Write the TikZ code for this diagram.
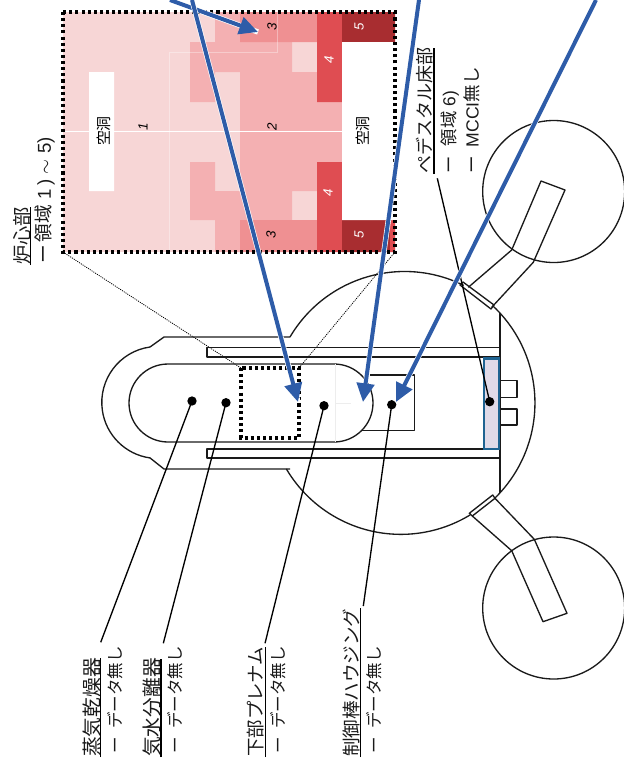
\documentclass[tikz,border=0pt]{standalone}
\usepackage{fontspec}
\setmainfont{Noto Sans CJK JP}
\newfontfamily\lat{Liberation Sans}
\usetikzlibrary{arrows.meta}
\definecolor{regA}{HTML}{F7D6D6}
\definecolor{regB}{HTML}{F4B0B2}
\definecolor{regC}{HTML}{EF9092}
\definecolor{regD}{HTML}{DF4D52}
\definecolor{regE}{HTML}{A82D30}
\definecolor{arrowblue}{HTML}{2E5CA8}
\definecolor{pedfill}{HTML}{E0DAE8}
\definecolor{pededge}{HTML}{1F6391}
\definecolor{ink}{HTML}{1A1A1A}
\tikzset{
  wall/.style={draw=ink,line width=1pt,line join=round},
  faint/.style={draw=black!7,line width=0.5pt},
  leader/.style={draw=black,line width=1pt},
  under/.style={draw=black,line width=1pt},
  thickdots/.style={draw=black,line width=2.6pt,dash pattern=on 2.3pt off 2.3pt},
  thindots/.style={draw=black,line width=0.6pt,dash pattern=on 0.8pt off 0.8pt},
  bigarrow/.style={draw=arrowblue,line width=3pt,-{Triangle[length=14pt,width=13pt]},preaction={draw=white,line width=4pt,-}},
  dotmark/.style={circle,fill=black,draw=none,minimum size=7pt,inner sep=0pt},
  headlbl/.style={rotate=90,anchor=west,inner sep=0pt,text=ink},
  sublbl/.style={rotate=90,anchor=west,inner sep=0pt,text=ink,font=\fontsize{12.4}{14}\selectfont},
  cellnum/.style={rotate=90,inner sep=0pt,font=\lat\itshape\fontsize{10}{11}\selectfont},
  holelbl/.style={rotate=90,inner sep=0pt,font=\fontsize{11.2}{12}\selectfont},
}
\begin{document}
\begin{tikzpicture}[x=0.75pt,y=-0.75pt]
\useasboundingbox (0,0) rectangle (624,758);
% enlarged core map
\fill[regA] (63,12) rectangle (395,252);
\fill[regB] (215,12) rectangle (240,42) (190,42) rectangle (292,72) (190,72) rectangle (215,102)
  (240,72) rectangle (317,191) (317,102) rectangle (342,162)
  (190,162) rectangle (215,191) (190,191) rectangle (292,220) (215,220) rectangle (240,252);
\fill[regC] (240,12) rectangle (317,42) (240,220) rectangle (317,252);
\fill[regD] (317,12) rectangle (342,102) (317,162) rectangle (342,252);
\fill[regE] (342,12) rectangle (395,42) (342,220) rectangle (395,252);
\fill[regD] (390,220) rectangle (395,252);
\fill[white] (342,42) rectangle (395,220) (89,72) rectangle (114,191);
\draw[white,line width=0.7pt] (63,131.5) -- (342,131.5);
\draw[white,opacity=.35,line width=0.5pt] (169,252) -- (169,52) -- (277,52) -- (277,12);
\node[cellnum] (n1) at (143,127) {1};
\node[cellnum] (n2) at (272,127) {2};
\node[cellnum] (n3a) at (272,27) {3};
\node[cellnum] (n3b) at (271,235) {3};
\node[cellnum,text=white] (n4a) at (329,60) {4};
\node[cellnum,text=white] (n4b) at (328,193) {4};
\node[cellnum,text=white] (n5a) at (359,27) {5};
\node[cellnum,text=white] (n5b) at (359,235) {5};
\node[holelbl] (h1) at (104,131) {空洞};
\node[holelbl] (h2) at (363,131) {空洞};
\draw[thickdots] (63,12) rectangle (395,252);
% zoom guides
\draw[thindots] (63,252) -- (241,368);
\draw[thindots] (395,252) -- (299,368);
% reactor outline
\draw[wall] (290,337) -- (164,337) -- (150,347) arc[start angle=262,end angle=98,radius=56] -- (164,469) -- (290,469);
\draw[wall] (290,337) arc[start angle=210.5,end angle=296.4,radius=133];
\draw[wall] (493,306) arc[start angle=-46.8,end angle=45.6,radius=133];
\draw[wall] (470,515) arc[start angle=58.7,end angle=149.5,radius=133];
\draw[wall] (207,347.7) rectangle (500,357);
\draw[wall] (207,449) rectangle (500,458);
\draw[wall] (500,313) -- (500,493);
% internals
\draw[wall] (335,364) -- (168,364) arc[start angle=270,end angle=90,radius=39] -- (334,442) arc[start angle=90,end angle=-90,radius=39];
\draw[faint] (335,364) -- (335,442) (335,403) -- (351,403);
\draw[wall] (370,375) -- (414.3,375) -- (414.3,430.7) -- (362,430.7);
\draw[wall] (500,380.7) -- (517,380.7) -- (517,397.3) -- (500,397.3);
\draw[wall] (500,409) -- (517,409) -- (517,425) -- (500,425);
\draw[fill=pedfill,draw=pededge,line width=1.8pt] (484,358.5) rectangle (499,449);
\draw[thickdots] (241,368) rectangle (299,438);
% nozzles and circles
\draw[wall] (463,282) -- (494,305) -- (491,309) -- (460,285) -- cycle;
\draw[wall] (468.3,287.3) -- (511.7,250) -- (541,181) -- (565,190) -- (533.3,262.3) -- (491.7,307.3);
\draw[wall] (469.3,513.3) -- (492.7,495) -- (495,498.3) -- (472.3,516) -- cycle;
\draw[wall] (472.3,516) -- (511.7,550.7) -- (543,621.7) -- (567,613.3) -- (534.3,539.3) -- (495,498.3);
\draw[wall] (553.7,191.5) circle[radius=71];
\draw[wall] (553.7,608) circle[radius=71];
% data points
\node[dotmark] (d1) at (192,401) {};
\node[dotmark] (d2) at (226,402.7) {};
\node[dotmark] (d3) at (324,405.7) {};
\node[dotmark] (d4) at (391.7,404.7) {};
\node[dotmark] (d5) at (489.7,401.7) {};
% labels
\node[headlbl,font=\fontsize{14.4}{15}\selectfont] (core) at (22,265) {炉心部};
\node[headlbl,font=\fontsize{14}{15}\selectfont] (coreb) at (45,264) {ー\hspace{.15em}領域\hspace{.3em}{\lat 1\,)\hspace{.3em}$\sim$\hspace{.3em}5)}};
\node[headlbl,font=\fontsize{13.5}{15}\selectfont] (ped) at (425,174) {ペデスタル床部};
\node[headlbl,font=\fontsize{13}{15}\selectfont] (pedb) at (450,174) {ー\hspace{.6em}領域\hspace{.3em}{\lat 6)}};
\node[headlbl,font=\fontsize{13.2}{15}\selectfont] (pedc) at (472,174) {ー\hspace{.5em}{\lat MCCI}無し};
\node[headlbl,font=\fontsize{14.8}{15}\selectfont] (dry) at (91.7,757) {蒸気乾燥器};
\node[sublbl] (dryb) at (115,754) {ー\hspace{.5em}データ無し};
\node[headlbl,font=\fontsize{14.8}{15}\selectfont] (sep) at (152,757) {気水分離器};
\node[sublbl] (sepb) at (175,754) {ー\hspace{.5em}データ無し};
\node[headlbl,font=\fontsize{13.8}{15}\selectfont] (plen) at (256,757) {下部プレナム};
\node[sublbl] (plenb) at (278,754) {ー\hspace{.5em}データ無し};
\node[headlbl,font=\fontsize{13.9}{15}\selectfont] (crd) at (351,757) {制御棒ハウジング};
\node[sublbl] (crdb) at (374,754) {ー\hspace{.5em}データ無し};
% underlines
\draw[under] (30.7,265) -- (30.7,207);
\draw[under] (434,174) -- (434,48);
\draw[under] (100.7,757) -- (100.7,658);
\draw[under] (161,757) -- (161,659);
\draw[under] (265.3,757) -- (265.3,647);
\draw[under] (360.3,757) -- (360.3,608);
% leaders
\coordinate (e1) at (100.7,642.3);
\coordinate (e2) at (163.3,643.3);
\coordinate (e3) at (265,643.3);
\coordinate (e4) at (363.3,606);
\coordinate (e5) at (437.3,178.3);
\draw[leader] (d1.center) -- (e1);
\draw[leader] (d2.center) -- (e2);
\draw[leader] (d3.center) -- (e3);
\draw[leader] (d4.center) -- (e4);
\draw[leader] (d5.center) -- (e5);
% pointer arrows
\coordinate (s1) at (170,0);
\coordinate (t1) at (258,32);
\coordinate (s2) at (192,0);
\coordinate (t2) at (298,402);
\coordinate (s3) at (419,0);
\coordinate (t3) at (363,402);
\coordinate (s4) at (596,0);
\coordinate (t4) at (396,402);
\draw[bigarrow] (s1) -- (t1);
\draw[bigarrow] (s2) -- (t2);
\draw[bigarrow] (s3) -- (t3);
\draw[bigarrow] (s4) -- (t4);
\end{tikzpicture}
\end{document}
